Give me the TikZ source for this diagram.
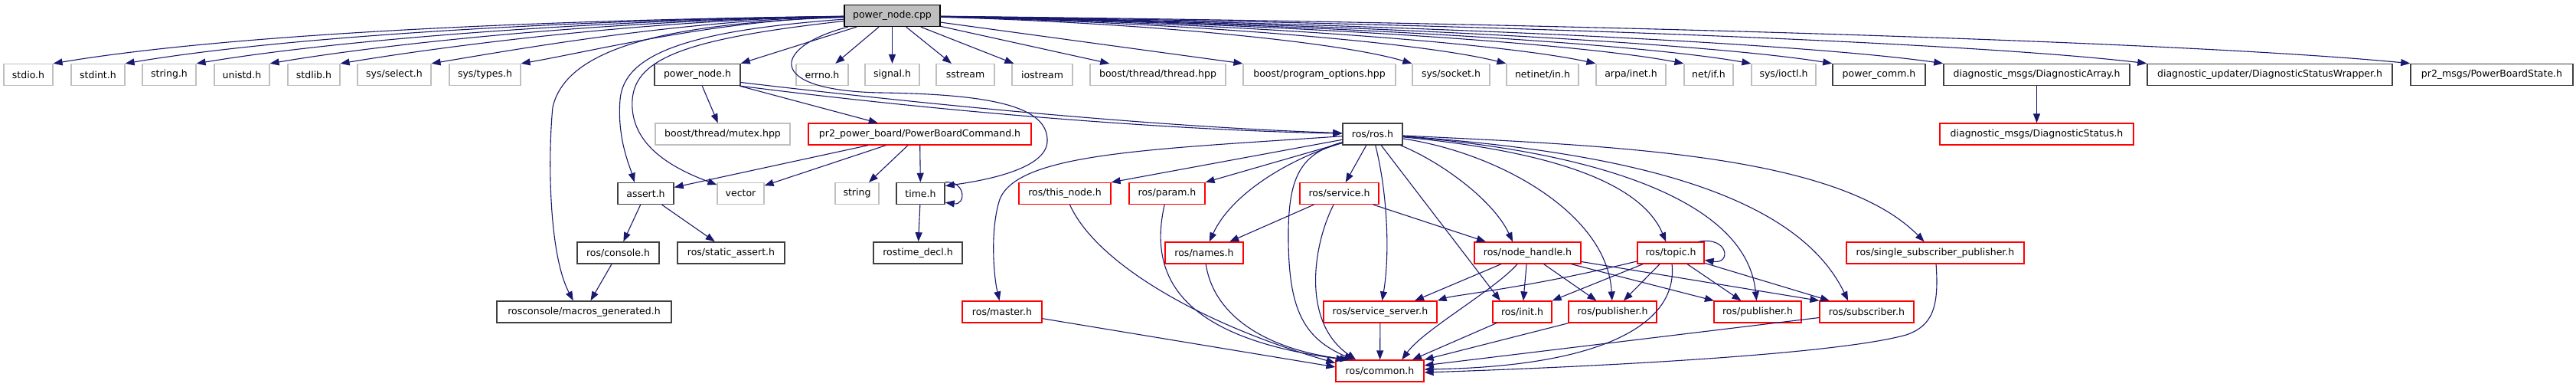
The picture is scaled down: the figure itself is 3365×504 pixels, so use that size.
\documentclass[tikz,border=0pt]{standalone}
\usepackage{fontspec}
\newfontfamily\dvs{DejaVu Sans}
\usetikzlibrary{arrows.meta}
\definecolor{edgeblue}{RGB}{25,25,112}
\definecolor{boxgrey}{RGB}{191,191,191}
\definecolor{boxdark}{RGB}{64,64,64}
\begin{document}
\begin{tikzpicture}[x=1pt,y=-1pt,
  base/.style={draw, rectangle, minimum height=28pt, inner sep=0pt, fill=white,
    font=\dvs\fontsize{12.5pt}{15pt}\selectfont},
  grey/.style={base, draw=boxgrey, line width=1.2pt},
  blk/.style={base, draw=boxdark, line width=1.5pt},
  redb/.style={base, draw=red, line width=1.25pt},
  rootb/.style={base, draw=black, fill=boxgrey, line width=1.3pt},
  dep/.style={draw=edgeblue, line width=1.1pt, -{Triangle[length=12pt,width=9pt]}}
]
\useasboundingbox (0,0) rectangle (3365,504);
\fill[white] (0,0) rectangle (3365,504);

% root
\node[rootb, minimum width=125pt] (root) at (1165.5,20.5) {power\_node.cpp};

% row 1
\node[grey, minimum width=64pt]  (stdio)   at (37,97.5)   {stdio.h};
\node[grey, minimum width=70pt]  (stdint)  at (128,97.5)  {stdint.h};
\node[grey, minimum width=70pt]  (stringh) at (221,97.5)  {string.h};
\node[grey, minimum width=72pt]  (unistd)  at (316,97.5)  {unistd.h};
\node[grey, minimum width=68pt]  (stdlib)  at (410,97.5)  {stdlib.h};
\node[grey, minimum width=96pt]  (sysselect) at (515,97.5) {sys/select.h};
\node[grey, minimum width=93pt]  (systypes) at (633.5,97.5) {sys/types.h};
\node[blk,  minimum width=112pt] (pnh)     at (911,97.5)  {power\_node.h};
\node[grey, minimum width=68pt]  (errno)   at (1074,97.5) {errno.h};
\node[grey, minimum width=71pt]  (signal)  at (1165.5,97.5) {signal.h};
\node[grey, minimum width=76pt]  (sstream) at (1261,97.5) {sstream};
\node[grey, minimum width=79pt]  (iostream) at (1361.5,97.5) {iostream};
\node[grey, minimum width=177pt] (bthread) at (1512.5,97.5) {boost/thread/thread.hpp};
\node[grey, minimum width=199pt] (bprog)   at (1723.5,97.5) {boost/program\_options.hpp};
\node[grey, minimum width=101pt] (socket)  at (1895.5,97.5) {sys/socket.h};
\node[grey, minimum width=94pt]  (netinet) at (2015,97.5) {netinet/in.h};
\node[grey, minimum width=91pt]  (arpa)    at (2130.5,97.5) {arpa/inet.h};
\node[grey, minimum width=64pt]  (netif)   at (2232,97.5) {net/if.h};
\node[grey, minimum width=84pt]  (ioctl)   at (2330,97.5) {sys/ioctl.h};
\node[blk,  minimum width=121pt] (pcomm)   at (2454.5,97.5) {power\_comm.h};
\node[blk,  minimum width=243pt] (darr)    at (2660.5,97.5) {diagnostic\_msgs/DiagnosticArray.h};
\node[blk,  minimum width=320pt] (dsw)     at (2965,97.5) {diagnostic\_updater/DiagnosticStatusWrapper.h};
\node[blk,  minimum width=212pt] (pbs)     at (3255,97.5) {pr2\_msgs/PowerBoardState.h};

% row 2
\node[grey, minimum width=176pt] (mutex) at (944,175) {boost/thread/mutex.hpp};
\node[redb, minimum width=291pt] (pbc)   at (1201.5,175) {pr2\_power\_board/PowerBoardCommand.h};
\node[blk,  minimum width=78pt]  (ros)   at (1793,175) {ros/ros.h};
\node[redb, minimum width=253pt] (dstat) at (2660.5,175) {diagnostic\_msgs/DiagnosticStatus.h};

% row 3
\node[blk,  minimum width=73pt]  (assert)   at (843.5,252.5) {assert.h};
\node[grey, minimum width=61pt]  (vector)   at (967.5,252.5) {vector};
\node[grey, minimum width=57pt]  (string)   at (1119.5,252.5) {string};
\node[blk,  minimum width=63pt]  (time)     at (1202.5,252.5) {time.h};
\node[redb, minimum width=120pt] (thisnode) at (1391,252.5) {ros/this\_node.h};
\node[redb, minimum width=99pt]  (param)    at (1524.5,252.5) {ros/param.h};
\node[redb, minimum width=103pt] (service)  at (1749.5,252.5) {ros/service.h};

% row 4
\node[blk,  minimum width=107pt] (console) at (807.5,330) {ros/console.h};
\node[blk,  minimum width=140pt] (sassert) at (955,330) {ros/static\_assert.h};
\node[blk,  minimum width=116pt] (rostime) at (1199,330) {rostime\_decl.h};
\node[redb, minimum width=102pt] (names)   at (1573,330) {ros/names.h};
\node[redb, minimum width=139pt] (nh)      at (1995.5,330) {ros/node\_handle.h};
\node[redb, minimum width=87pt]  (topic)   at (2182.5,330) {ros/topic.h};
\node[redb, minimum width=232pt] (ssp)     at (2528,330) {ros/single\_subscriber\_publisher.h};

% row 5
\node[blk,  minimum width=228pt] (macros) at (763,407) {rosconsole/macros\_generated.h};
\node[redb, minimum width=104pt] (master) at (1309,407) {ros/master.h};
\node[redb, minimum width=148pt] (ssrv)   at (1803,407) {ros/service\_server.h};
\node[redb, minimum width=77pt]  (init)   at (1988.5,407) {ros/init.h};
\node[redb, minimum width=115pt] (pubA)   at (2106.5,407) {ros/publisher.h};
\node[redb, minimum width=114pt] (pubB)   at (2296,407) {ros/publisher.h};
\node[redb, minimum width=123pt] (sub)    at (2438.5,407) {ros/subscriber.h};

% row 6
\node[redb, minimum width=115pt] (common) at (1802.5,484) {ros/common.h};

% ---- edges from root to row 1 (left) ----
\draw[dep] (root) .. controls (700,26) and (296,45) .. (stdio.north east);
\draw[dep] (root) .. controls (736,26) and (370,48) .. (stdint.north east);
\draw[dep] (root) .. controls (773,26) and (442,52) .. (stringh.north east);
\draw[dep] (root) .. controls (810,26) and (517,55) .. (unistd.north east);
\draw[dep] (root) .. controls (846,26) and (589,59) .. (stdlib.north east);
\draw[dep] (root) .. controls (892,26) and (682,63) .. (sysselect.north east);
\draw[dep] (root) .. controls (938,26) and (773,67) .. (systypes.north east);
% near
\draw[dep] (root) -- (pnh.north east);
\draw[dep] (root) -- (errno);
\draw[dep] (root) -- (signal);
\draw[dep] (root) -- (sstream);
\draw[dep] (root) -- (iostream);
\draw[dep] (root) -- (bthread.167);
\draw[dep] (root) -- (bprog.north west);
% right
\draw[dep] (root) .. controls (1499,30) and (1752,55) .. (socket.north west);
\draw[dep] (root) .. controls (1554,30) and (1857,55) .. (netinet.north west);
\draw[dep] (root) .. controls (1605,30) and (1956,55) .. (arpa.north west);
\draw[dep] (root) .. controls (1656,30) and (2054,55) .. (netif.north west);
\draw[dep] (root) .. controls (1694,30) and (2129,55) .. (ioctl.north west);
\draw[dep] (root) .. controls (1741,30) and (2219,55) .. (pcomm.north west);
\draw[dep] (root) .. controls (1805,30) and (2342,55) .. (darr.north west);
\draw[dep] (root) .. controls (1922,30) and (2568,55) .. (dsw.north west);
\draw[dep] (root) .. controls (2073,30) and (2861,55) .. (pbs.north west);
% long edges from root
\draw[dep] (root) .. controls (880,30) and (740,60) .. (722,140) .. controls (716,200) and (716,330) .. (macros.134);
\draw[dep] (root) .. controls (900,40) and (815,70) .. (810,130) .. controls (806,180) and (822,215) .. (assert.135);
\draw[dep] (root) .. controls (900,50) and (830,75) .. (826,130) .. controls (822,190) and (880,220) .. (vector.160);
\draw[dep] (root) .. controls (1010,60) and (995,118) .. (1150,121) .. controls (1300,123) and (1370,140) .. (1368,185) .. controls (1366,220) and (1290,235) .. (time.17);

% power_node.h
\draw[dep] (pnh) -- (mutex);
\draw[dep] (pnh) -- (pbc);
\draw[dep] (pnh.-10) .. controls (1200,135) and (1500,165) .. (ros);
\draw[dep] (pnh.south east) .. controls (1200,142) and (1500,169) .. (ros);

% PowerBoardCommand
\draw[dep] (pbc) -- (assert);
\draw[dep] (pbc) -- (vector);
\draw[dep] (pbc) -- (string);
\draw[dep] (pbc) -- (time);
\draw[dep] (time.north east) .. controls (1262,236) and (1262,268) .. (time.-20);
\draw[dep] (time) -- (rostime);
\draw[dep] (assert) -- (console);
\draw[dep] (assert) -- (sassert);
\draw[dep] (console) -- (macros);
\draw[dep] (darr) -- (dstat);

% ros/ros.h
\draw[dep] (ros) -- (thisnode.north east);
\draw[dep] (ros) -- (param.north east);
\draw[dep] (ros) .. controls (1690,205) and (1610,250) .. (names);
\draw[dep] (ros) -- (service);
\draw[dep] (ros) .. controls (1700,200) and (1684,230) .. (1683,300) .. controls (1682,400) and (1700,440) .. (common.157);
\draw[dep] (ros) .. controls (1812,250) and (1816,330) .. (ssrv);
\draw[dep] (ros) -- (init.153);
\draw[dep] (ros) .. controls (1880,210) and (1950,260) .. (nh.143);
\draw[dep] (ros) .. controls (1960,200) and (2100,280) .. (pubA);
\draw[dep] (ros) .. controls (2000,195) and (2140,230) .. (topic);
\draw[dep] (ros) .. controls (2050,195) and (2280,250) .. (pubB);
\draw[dep] (ros) .. controls (2150,200) and (2350,260) .. (sub.149);
\draw[dep] (ros) .. controls (2100,190) and (2400,200) .. (ssp);
\draw[dep] (ros) .. controls (1500,195) and (1330,200) .. (1306,260) .. controls (1293,300) and (1298,360) .. (master);

% ros/service.h
\draw[dep] (service) -- (names);
\draw[dep] (service) -- (nh.165);
\draw[dep] (service) .. controls (1715,320) and (1700,420) .. (common.155);

% into common
\draw[dep] (thisnode) .. controls (1430,340) and (1560,420) .. (common.170);
\draw[dep] (param) .. controls (1500,360) and (1540,440) .. (common.162);
\draw[dep] (names) .. controls (1585,410) and (1650,455) .. (common.160);
\draw[dep] (master) -- (common.175);
\draw[dep] (ssrv) -- (common);
\draw[dep] (nh) .. controls (1950,380) and (1860,430) .. (common.27);
\draw[dep] (init) -- (common.19);
\draw[dep] (pubA) -- (common.north east);
\draw[dep] (sub) -- (common.7);
\draw[dep] (topic) .. controls (2192,420) and (2100,478) .. (common.2);
\draw[dep] (ssp) .. controls (2533,400) and (2525,425) .. (2490,437) .. controls (2400,462) and (2100,478) .. (common.-2);

% node_handle
\draw[dep] (nh) -- (ssrv.18);
\draw[dep] (nh) -- (init);
\draw[dep] (nh) -- (pubA);
\draw[dep] (nh) -- (pubB);
\draw[dep] (nh) -- (sub.north west);

% topic
\draw[dep] (topic.22) .. controls (2258,308) and (2262,345) .. (topic.-12);
\draw[dep] (topic) .. controls (2000,375) and (1900,385) .. (ssrv.north east);
\draw[dep] (topic) -- (init.north east);
\draw[dep] (topic) -- (pubA);
\draw[dep] (topic) -- (pubB);
\draw[dep] (topic) -- (sub);
\end{tikzpicture}
\end{document}
